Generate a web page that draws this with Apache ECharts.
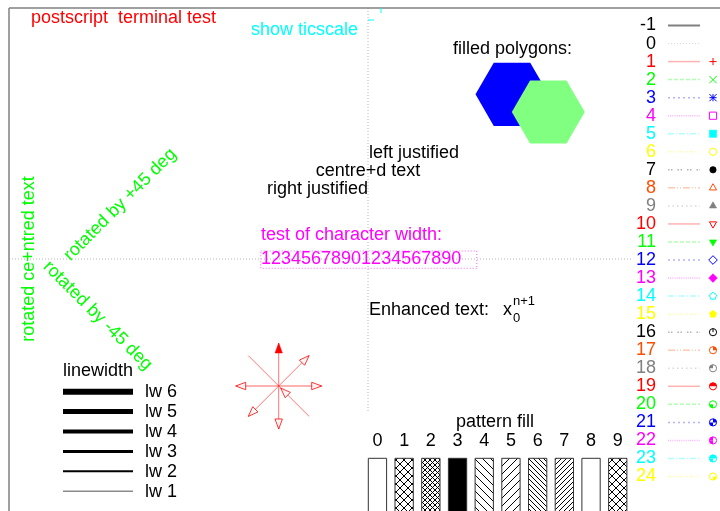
<!DOCTYPE html>
<html><head><meta charset="utf-8">
<script src="https://cdn.jsdelivr.net/npm/echarts@6/dist/echarts.min.js"></script>
<style>html,body{margin:0;padding:0;background:#fff;}#c{width:720px;height:511px;}</style>
</head><body><div id="c"></div>
<script>
// ---------------- data ----------------
const legendTypes = [-1,0,1,2,3,4,5,6,7,8,9,10,11,12,13,14,15,16,17,18,19,20,21,22,23,24];
const lineColors = ['#ff0000','#00ff00','#0000ff','#ff00ff','#00ffff','#ffff00','#000000','#ff4d00','#808080'];
const titleText = 'postscript  terminal test';
const ticscaleText = 'show ticscale';
const polygonTitle = 'filled polygons:';
const justifyTexts = ['left justified','centre+d text','right justified'];
const rotatedTexts = ['rotated ce+ntred text','rotated by +45 deg','rotated by -45 deg'];
const charWidthTexts = ['test of character width:','12345678901234567890'];
const enhancedParts = ['Enhanced text:','x','0','n+1'];
const lwTitle = 'linewidth';
const lwValues = [6,5,4,3,2,1];
const patternTitle = 'pattern fill';
const patternIds = [0,1,2,3,4,5,6,7,8,9];
const arrowAngles = [0,45,90,135,180,225,270,315];
const arrowHeads = ['empty','empty','filled','none','empty','empty','empty','back'];

// ---------------- layout / style ----------------
const FONT = "'Liberation Sans', Arial, Helvetica, sans-serif";
const L = {
  legend:{labelX:656, lineX0:668, lineX1:700, markX:713, y0:25.5, dy:18.04},
  hex:[[512,94.3],[548.3,112]], hexR:36.5, hexColors:['#0000ff','#80ff80'],
  arrow:{cx:278.7, cy:386, len:43},
  lw:{x0:63, x1:133, labelX:145, y0:391.7, dy:19.9},
  pat:{x0:368.3, dx:26.7, w:18.3, top:458.3, bottom:525}
};
const dashes = [null,[4,2],[2,3],[1,1.2],[6,2,1,2],[3,2,1,2,1,2],[1.5,1.5,1.5,5],[7,2,1,2,1,2],[1.5,3]];
const ltColor = t => t <= 0 ? '#000000' : lineColors[(t-1)%9];
const legendY = t => L.legend.y0 + (t+1)*L.legend.dy;

function hatch(p, dirs){
  const c = document.createElement('canvas'); c.width=p; c.height=p;
  const g = c.getContext('2d'); g.strokeStyle='#000'; g.lineWidth=1;
  g.fillStyle='#fff'; g.fillRect(0,0,p,p);
  dirs.forEach(d=>{
    g.beginPath();
    if(d==='/'){g.moveTo(-1,p+1);g.lineTo(p+1,-1);g.moveTo(-1,1);g.lineTo(1,-1);g.moveTo(p-1,p+1);g.lineTo(p+1,p-1);}
    else{g.moveTo(-1,-1);g.lineTo(p+1,p+1);g.moveTo(p-1,-1);g.lineTo(p+1,1);g.moveTo(-1,p-1);g.lineTo(1,p+1);}
    g.stroke();
  });
  return {image:c, repeat:'repeat'};
}
const patternFills = ['#ffffff', hatch(8,['/','\\']), hatch(5,['/','\\']), '#000000',
  hatch(8,['\\']), hatch(8,['/']), hatch(5,['\\']), hatch(5,['/']), '#ffffff', hatch(8,['/','\\'])];

// ---------------- helpers ----------------
function segSeries(segs, styleOf){
  return {type:'custom', coordinateSystem:'cartesian2d', silent:true, clip:false, data:segs,
    renderItem(params, api){
      const a = api.coord([api.value(0), api.value(1)]);
      const b = api.coord([api.value(2), api.value(3)]);
      return {type:'line', shape:{x1:a[0],y1:a[1],x2:b[0],y2:b[1]}, style:styleOf(params.dataIndex)};
    }};
}
function textSeries(items){
  return {type:'custom', coordinateSystem:'cartesian2d', silent:true, clip:false,
    data: items.map(it=>it.at),
    renderItem(params, api){
      const it = items[params.dataIndex];
      const p = api.coord([api.value(0), api.value(1)]);
      return {type:'text', x:p[0], y:p[1], rotation:(it.rot||0)*Math.PI/180,
        style:{text:it.text, fill:it.color||'#000', fontSize:it.size||18, fontFamily:FONT,
               align:it.align||'left', verticalAlign:'middle'}};
    }};
}
function marker(pt, cx, cy, color){
  const r = 3.6;
  const S = {stroke:color, lineWidth:1, fill:'none'};
  const F = {fill:color, stroke:color, lineWidth:0.6};
  const els = [];
  const poly = (pts, f) => els.push({type:'polygon', shape:{points:pts}, style:f?F:S});
  const line = (x1,y1,x2,y2) => els.push({type:'line', shape:{x1,y1,x2,y2}, style:S});
  const reg = (n, rot, rr) => { const pts=[]; for(let k=0;k<n;k++){const a=rot+k*2*Math.PI/n; pts.push([cx+rr*Math.cos(a), cy+rr*Math.sin(a)]);} return pts; };
  switch(pt){
    case 1: line(cx-r,cy,cx+r,cy); line(cx,cy-r,cx,cy+r); break;
    case 2: line(cx-r,cy-r,cx+r,cy+r); line(cx-r,cy+r,cx+r,cy-r); break;
    case 3: line(cx-r,cy,cx+r,cy); line(cx,cy-r,cx,cy+r); line(cx-r,cy-r,cx+r,cy+r); line(cx-r,cy+r,cx+r,cy-r); break;
    case 4: case 5: poly([[cx-r,cy-r],[cx+r,cy-r],[cx+r,cy+r],[cx-r,cy+r]], pt===5); break;
    case 6: case 7: els.push({type:'circle', shape:{cx,cy,r:pt===7?3.2:r}, style:pt===7?F:S}); break;
    case 8: case 9: poly(reg(3,-Math.PI/2,r*1.15), pt===9); break;
    case 10: case 11: poly(reg(3,Math.PI/2,r*1.15), pt===11); break;
    case 12: case 13: poly(reg(4,0,r*1.2), pt===13); break;
    case 14: case 15: poly(reg(5,-Math.PI/2,r*1.05), pt===15); break;
    default: {
      const mask = pt-16;
      const q = [[-Math.PI/2,0],[-Math.PI,-Math.PI/2],[Math.PI/2,Math.PI],[0,Math.PI/2]];
      q.forEach((ang,k)=>{ if(mask & (1<<k)) els.push({type:'sector', shape:{cx,cy,r0:0,r,startAngle:ang[0],endAngle:ang[1],clockwise:true}, style:{fill:color}}); });
      els.push({type:'circle', shape:{cx,cy,r}, style:S});
      if(mask===0) line(cx,cy,cx,cy-r);
    }
  }
  return {type:'group', children:els};
}

// ---------------- texts ----------------
const texts = [];
texts.push({at:[31,18], text:titleText, color:'#ff0000'});
texts.push({at:[251,30], text:ticscaleText, color:'#00ffff'});
texts.push({at:[453,49], text:polygonTitle});
texts.push({at:[369,153], text:justifyTexts[0], align:'left'});
texts.push({at:[368,171], text:justifyTexts[1], align:'center'});
texts.push({at:[368,189], text:justifyTexts[2], align:'right'});
texts.push({at:[29,259], text:rotatedTexts[0], align:'center', rot:90, color:'#00ff00'});
texts.push({at:[67,258], text:rotatedTexts[1], rot:45, color:'#00ff00'});
texts.push({at:[46,264], text:rotatedTexts[2], rot:-45, color:'#00ff00'});
texts.push({at:[261,235], text:charWidthTexts[0], color:'#ff00ff'});
texts.push({at:[261,259], text:charWidthTexts[1], color:'#ff00ff'});
texts.push({at:[369,310], text:enhancedParts[0]});
texts.push({at:[503,310], text:enhancedParts[1]});
texts.push({at:[513,318], text:enhancedParts[2], size:13});
texts.push({at:[513,301], text:enhancedParts[3], size:13});
texts.push({at:[63,371], text:lwTitle});
lwValues.forEach((w,i)=>texts.push({at:[L.lw.labelX, L.lw.y0+i*L.lw.dy+0.8], text:'lw '+w}));
texts.push({at:[495,422], text:patternTitle, align:'center'});
patternIds.forEach(i=>texts.push({at:[L.pat.x0+i*L.pat.dx+L.pat.w/2, 441], text:String(i), align:'center'}));
legendTypes.forEach(t=>texts.push({at:[L.legend.labelX, legendY(t)], text:String(t), align:'right', color:ltColor(t)}));

// ---------------- frame / axes ----------------
const frameSegs = [[9,8,720,8],[9,8,9,511]];
const zeroSegs = [[368,8,368,413],[9,259,633,259]];
const ticSegs = [[368,20,374,20],[381,8,381,13]];
const boxSegs = [[260.7,251,476.7,251],[476.7,251,476.7,268.3],[476.7,268.3,260.7,268.3],[260.7,268.3,260.7,251]];

const series = [];
series.push(segSeries(zeroSegs, ()=>({stroke:'#b8b8b8', lineWidth:1, lineDash:[1,2]})));
series.push(segSeries(frameSegs, ()=>({stroke:'#808080', lineWidth:1.5})));
series.push(segSeries(ticSegs, ()=>({stroke:'#00ffff', lineWidth:1})));
series.push(segSeries(boxSegs, ()=>({stroke:'#ff00ff', lineWidth:1, lineDash:[1,2], opacity:0.6})));

// hexagons
series.push({type:'custom', coordinateSystem:'cartesian2d', silent:true, clip:false,
  data: L.hex,
  renderItem(params, api){
    const cx = api.value(0), cy = api.value(1), pts=[];
    for(let k=0;k<6;k++){ const a=k*Math.PI/3; pts.push(api.coord([cx+L.hexR*Math.cos(a), cy+L.hexR*Math.sin(a)])); }
    return {type:'polygon', shape:{points:pts}, style:{fill:L.hexColors[params.dataIndex]}};
  }});

// arrows
series.push({type:'custom', coordinateSystem:'cartesian2d', silent:true, clip:false,
  data: arrowAngles.map(a=>[L.arrow.cx, L.arrow.cy, L.arrow.cx+L.arrow.len*Math.cos(a*Math.PI/180), L.arrow.cy-L.arrow.len*Math.sin(a*Math.PI/180)]),
  renderItem(params, api){
    const a = api.coord([api.value(0), api.value(1)]);
    const b = api.coord([api.value(2), api.value(3)]);
    const kind = arrowHeads[params.dataIndex];
    const horiz = Math.abs(a[1]-b[1])<0.5;
    const els = [{type:'line', shape:{x1:a[0],y1:a[1],x2:b[0],y2:b[1]}, style:{stroke:'#ff0000', lineWidth:horiz?2:1, opacity:horiz?0.3:0.55}}];
    const head = (tip, from) => {
      const dx=tip[0]-from[0], dy=tip[1]-from[1], d=Math.hypot(dx,dy), ux=dx/d, uy=dy/d;
      const bx=tip[0]-10*ux, by=tip[1]-10*uy, nx=-uy*3.7, ny=ux*3.7;
      return [[tip[0],tip[1]],[bx+nx,by+ny],[bx-nx,by-ny]];
    };
    if(kind==='filled') els.push({type:'polygon', shape:{points:head(b,a)}, style:{fill:'#ff0000', stroke:'#ff0000', lineWidth:0.5}});
    else if(kind==='empty') els.push({type:'polygon', shape:{points:head(b,a)}, style:{fill:'#ffffff', stroke:'#ff0000', lineWidth:1, opacity:0.8}});
    else if(kind==='back') els.push({type:'polygon', shape:{points:head([a[0]+2,a[1]+2], b)}, style:{fill:'#ffffff', stroke:'#ff0000', lineWidth:1, opacity:0.8}});
    return {type:'group', children:els};
  }});

// linewidth samples
series.push(segSeries(lwValues.map((w,i)=>[L.lw.x0, L.lw.y0+i*L.lw.dy, L.lw.x1, L.lw.y0+i*L.lw.dy]),
  i=>({stroke: lwValues[i]===1?'#8a8a8a':'#000000', lineWidth: lwValues[i]===1?1.5:lwValues[i]})));

// pattern boxes
series.push({type:'custom', coordinateSystem:'cartesian2d', silent:true, clip:false,
  data: patternIds.map(i=>[L.pat.x0+i*L.pat.dx, L.pat.top, L.pat.x0+i*L.pat.dx+L.pat.w, L.pat.bottom]),
  renderItem(params, api){
    const a = api.coord([api.value(0), api.value(1)]);
    const b = api.coord([api.value(2), api.value(3)]);
    return {type:'rect', shape:{x:a[0], y:a[1], width:b[0]-a[0], height:b[1]-a[1]},
      style:{fill:patternFills[patternIds[params.dataIndex]], stroke:'#333333', lineWidth:1}};
  }});

// legend line samples
series.push(segSeries(legendTypes.map(t=>[L.legend.lineX0, legendY(t), L.legend.lineX1, legendY(t)]), i=>{
  const t = legendTypes[i];
  if(t===-1) return {stroke:'#808080', lineWidth:2};
  if(t===0) return {stroke:'#c0c0c0', lineWidth:1, lineDash:[1,2], opacity:0.6};
  return {stroke:ltColor(t), lineWidth:1.5, lineDash:dashes[(t-1)%9], opacity:0.3};
}));

// legend markers
const markerTypes = legendTypes.filter(t=>t>=1);
series.push({type:'custom', coordinateSystem:'cartesian2d', silent:true, clip:false,
  data: markerTypes.map(t=>[L.legend.markX, legendY(t)]),
  renderItem(params, api){
    const p = api.coord([api.value(0), api.value(1)]);
    const t = markerTypes[params.dataIndex];
    return marker(t, p[0], p[1], ltColor(t));
  }});

series.push(textSeries(texts));

const chart = echarts.init(document.getElementById('c'), null, {renderer:'canvas', width:720, height:511});
chart.setOption({
  animation:false,
  grid:{left:0,right:0,top:0,bottom:0},
  xAxis:{type:'value', min:0, max:720, show:false},
  yAxis:{type:'value', min:0, max:511, inverse:true, show:false},
  series
});
</script></body></html>
